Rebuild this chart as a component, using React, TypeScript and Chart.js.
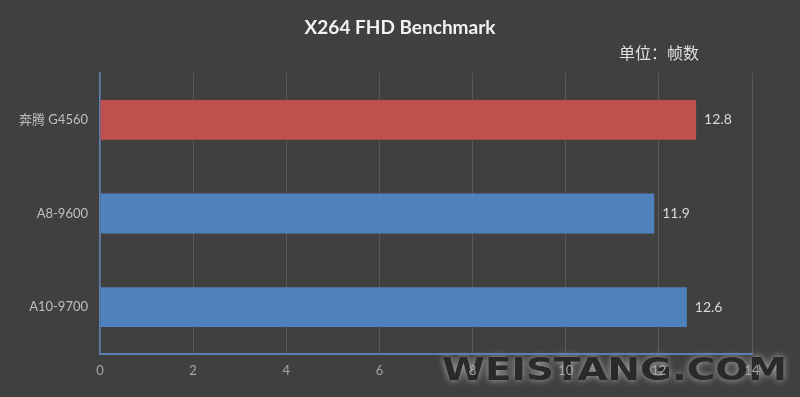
import React, { useEffect, useRef } from "react";
import { Chart, registerables } from "chart.js";

Chart.register(...registerables);

const categories = ["奔腾 G4560", "A8-9600", "A10-9700"];
const values = [12.8, 11.9, 12.6];
const barColors = ["#C0504D", "#4F81BD", "#4F81BD"];
const titleText = "X264 FHD Benchmark";
const unitText = "单位：帧数";
const watermark = "WEISTANG.COM";

const FONT = "Lato, 'Noto Sans CJK SC', sans-serif";

export default function App() {
  const ref = useRef<HTMLCanvasElement>(null);
  useEffect(() => {
    document.body.style.margin = "0";
    document.body.style.background = "#404040";
    const canvas = ref.current!;
    const overlay = {
      id: "overlay",
      beforeDraw(chart: any) {
        const ctx = chart.ctx;
        ctx.save();
        ctx.fillStyle = "#404040";
        ctx.fillRect(0, 0, chart.width, chart.height);
        // watermark (drawn beneath the axis labels)
        ctx.font = `bold 34px 'DejaVu Sans', sans-serif`;
        const w = ctx.measureText(watermark).width;
        const target = 345;
        ctx.translate(442, 372);
        ctx.scale(target / w, 0.95);
        ctx.textAlign = "left";
        ctx.textBaseline = "middle";
        ctx.shadowColor = "rgba(255,255,255,0.6)";
        ctx.shadowBlur = 7;
        ctx.fillStyle = "#2a2a2a";
        ctx.fillText(watermark, 0, 0);
        ctx.restore();
      },
      afterDatasetsDraw(chart: any) {
        const ctx = chart.ctx;
        ctx.save();
        ctx.font = `14px ${FONT}`;
        ctx.fillStyle = "#d9d9d9";
        ctx.textAlign = "left";
        ctx.textBaseline = "middle";
        chart.getDatasetMeta(0).data.forEach((el: any, i: number) => {
          ctx.fillText(String(values[i]), el.x + 8, el.y);
        });
        ctx.restore();
      },
      afterDraw(chart: any) {
        const ctx = chart.ctx;
        ctx.save();
        ctx.fillStyle = "#f2f2f2";
        ctx.font = `bold 19px ${FONT}`;
        ctx.textAlign = "center";
        ctx.textBaseline = "middle";
        ctx.fillText(titleText, 400, 28);
        ctx.font = `16px 'Noto Sans CJK SC', sans-serif`;
        ctx.fillStyle = "#e0e0e0";
        ctx.textAlign = "left";
        ctx.fillText(unitText, 619, 53);
        ctx.restore();
      },
    };
    const chart = new Chart(canvas, {
      type: "bar",
      data: {
        labels: categories,
        datasets: [
          {
            data: values,
            backgroundColor: barColors,
            barPercentage: 0.425,
            categoryPercentage: 1,
          },
        ],
      },
      options: {
        indexAxis: "y",
        animation: false,
        responsive: false,
        layout: { padding: { top: 73, right: 48, left: 0, bottom: 0 } },
        plugins: { legend: { display: false }, title: { display: false }, tooltip: { enabled: false } },
        scales: {
          x: {
            min: 0,
            max: 14,
            ticks: { stepSize: 2, color: "#a6a6a6", padding: 9, font: { size: 13, family: FONT } },
            grid: { color: "#595959", drawTicks: false, lineWidth: 1 },
            border: { color: "#5b7fb5", width: 2 },
            afterFit: (s: any) => { s.height = 43; },
          },
          y: {
            ticks: { color: "#bfbfbf", padding: 12, font: { size: 13, family: FONT } },
            grid: { display: false, drawTicks: false },
            border: { color: "#5b7fb5", width: 1.5 },
            afterFit: (s: any) => { s.width = 100; },
          },
        },
      },
      plugins: [overlay],
    });
    return () => chart.destroy();
  }, []);
  return <canvas ref={ref} width={800} height={397} style={{ display: "block" }} />;
}
